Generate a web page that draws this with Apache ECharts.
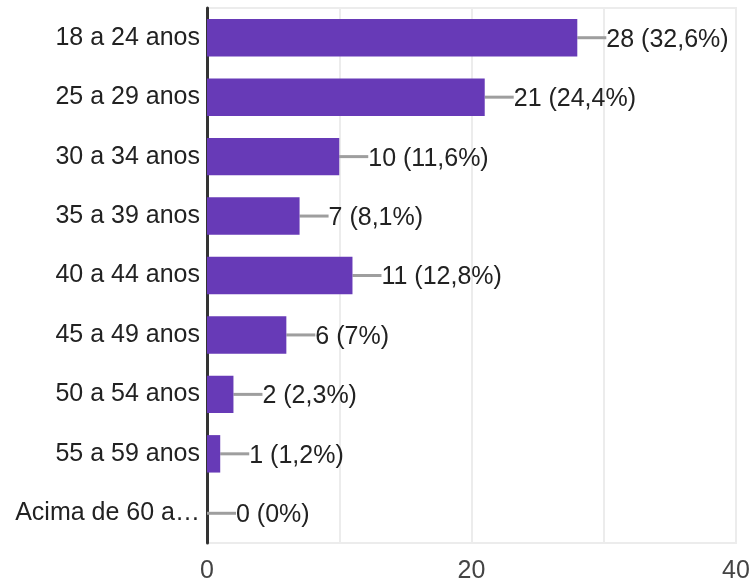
<!DOCTYPE html>
<html>
<head>
<meta charset="utf-8">
<script src="https://cdn.jsdelivr.net/npm/echarts@6/dist/echarts.min.js"></script>
<style>
  html, body { margin: 0; padding: 0; background: #fff; }
  #chart { width: 752px; height: 582px; }
</style>
</head>
<body>
<div id="chart"></div>
<script>
// Age brackets of respondents, with counts and share of total
const categories = ['18 a 24 anos', '25 a 29 anos', '30 a 34 anos', '35 a 39 anos',
  '40 a 44 anos', '45 a 49 anos', '50 a 54 anos', '55 a 59 anos', 'Acima de 60 anos'];
const counts = [28, 21, 10, 7, 11, 6, 2, 1, 0];
const shares = ['32,6%', '24,4%', '11,6%', '8,1%', '12,8%', '7%', '2,3%', '1,2%', '0%'];
const xTicks = [0, 20, 40];

const FONT = 'Liberation Sans, Arial, sans-serif';
const chart = echarts.init(document.getElementById('chart'));

chart.setOption({
  animation: false,
  grid: {
    left: 207, right: 16, top: 8, bottom: 39,
    containLabel: false, outerBoundsMode: 'none',
    show: true, borderColor: '#ececec', borderWidth: 2, backgroundColor: 'transparent'
  },
  xAxis: {
    type: 'value', min: 0, max: 40, interval: 10,
    axisLine: { show: false }, axisTick: { show: false },
    splitLine: { show: true, lineStyle: { color: '#ececec', width: 2 } },
    axisLabel: {
      fontFamily: FONT, fontSize: 25, color: '#444', margin: 16,
      formatter: v => (xTicks.indexOf(v) >= 0 ? String(v) : '')
    }
  },
  yAxis: {
    type: 'category', data: categories, inverse: true,
    axisLine: { show: true, lineStyle: { color: '#333', width: 3 } },
    axisTick: { show: false },
    splitLine: { show: false },
    axisLabel: {
      fontFamily: FONT, fontSize: 25, color: '#222', margin: 7,
      width: 190, overflow: 'truncate', ellipsis: '…'
    }
  },
  series: [
    {
      type: 'bar', data: counts, barWidth: '63%',
      itemStyle: { color: '#673ab7' }
    },
    {
      // leader line and value label to the right of each bar
      type: 'custom',
      data: counts.map((v, i) => [v, i]),
      renderItem: function (params, api) {
        const p = api.coord([api.value(0), api.value(1)]);
        const i = params.dataIndex;
        return {
          type: 'group',
          children: [
            {
              type: 'line',
              shape: { x1: p[0], y1: p[1], x2: p[0] + 29, y2: p[1] },
              style: { stroke: '#9e9e9e', lineWidth: 3 }
            },
            {
              type: 'text',
              x: p[0] + 29, y: p[1] + 2,
              style: {
                text: counts[i] + ' (' + shares[i] + ')',
                fontFamily: FONT, fontSize: 25, fill: '#222',
                align: 'left', verticalAlign: 'middle'
              }
            }
          ]
        };
      }
    }
  ]
});
</script>
</body>
</html>
